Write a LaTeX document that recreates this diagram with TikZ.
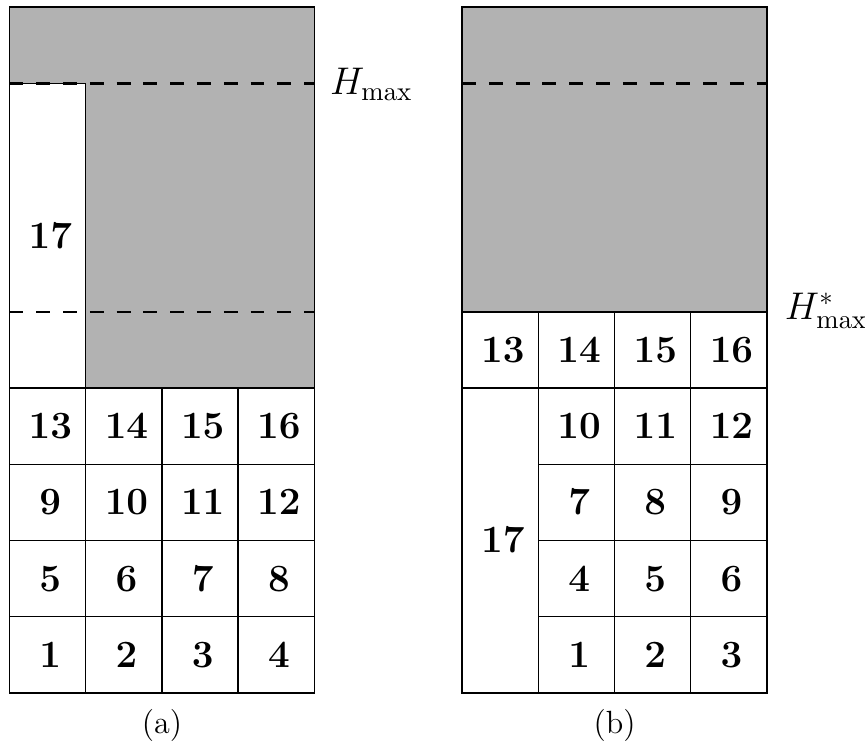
\documentclass[tikz,border=0pt]{standalone}
\begin{document}
\begin{tikzpicture}[x=1cm,y=1cm,
  grayfill/.style={fill=black!30},
  cellline/.style={draw=black,line width=0.5pt},
  hline/.style={draw=black,line width=0.9pt,dash pattern=on 5.2pt off 4.8pt},
  num/.style={font=\Large, xshift=1pt},
  captext/.style={font=\large, anchor=base},
  hlab/.style={font=\Large, anchor=base west, inner sep=0pt}]
\useasboundingbox (-0.125,-0.682) rectangle (11.227,9.094);

% ---------- (a) ----------
\begin{scope}
  \fill[grayfill] (0,8) rectangle (4,9);
  \fill[grayfill] (1,4) rectangle (4,8);
  \draw[cellline] (0,0) grid (4,4);
  \draw[cellline] (0,4) rectangle (1,8);
  \draw[cellline] (0,0) rectangle (4,9);
  \draw[hline] (0,8) -- (4,8);
  \draw[hline] (0,5) -- (4,5);
  \node[num] (a1) at (0.5,0.5) {$\mathbf{1}$};
  \node[num] (a2) at (1.5,0.5) {$\mathbf{2}$};
  \node[num] (a3) at (2.5,0.5) {$\mathbf{3}$};
  \node[num] (a4) at (3.5,0.5) {$\mathbf{4}$};
  \node[num] (a5) at (0.5,1.5) {$\mathbf{5}$};
  \node[num] (a6) at (1.5,1.5) {$\mathbf{6}$};
  \node[num] (a7) at (2.5,1.5) {$\mathbf{7}$};
  \node[num] (a8) at (3.5,1.5) {$\mathbf{8}$};
  \node[num] (a9) at (0.5,2.5) {$\mathbf{9}$};
  \node[num] (a10) at (1.5,2.5) {$\mathbf{10}$};
  \node[num] (a11) at (2.5,2.5) {$\mathbf{11}$};
  \node[num] (a12) at (3.5,2.5) {$\mathbf{12}$};
  \node[num] (a13) at (0.5,3.5) {$\mathbf{13}$};
  \node[num] (a14) at (1.5,3.5) {$\mathbf{14}$};
  \node[num] (a15) at (2.5,3.5) {$\mathbf{15}$};
  \node[num] (a16) at (3.5,3.5) {$\mathbf{16}$};
  \node[num] (a17) at (0.5,6) {$\mathbf{17}$};
  \node[hlab] (hmax) at (4.2,7.85) {$H_{\max}$};
  \node[captext] (capa) at (2,-0.534) {(a)};
\end{scope}

% ---------- (b) ----------
\begin{scope}[xshift=5.94cm]
  \fill[grayfill] (0,5) rectangle (4,9);
  \draw[cellline] (1,0) grid (4,4);
  \draw[cellline] (0,4) grid (4,5);
  \draw[cellline] (0,0) rectangle (1,4);
  \draw[cellline] (0,0) rectangle (4,9);
  \draw[hline] (0,8) -- (4,8);
  \draw[hline] (0,5) -- (4,5);
  \node[num] (b1) at (1.5,0.5) {$\mathbf{1}$};
  \node[num] (b2) at (2.5,0.5) {$\mathbf{2}$};
  \node[num] (b3) at (3.5,0.5) {$\mathbf{3}$};
  \node[num] (b4) at (1.5,1.5) {$\mathbf{4}$};
  \node[num] (b5) at (2.5,1.5) {$\mathbf{5}$};
  \node[num] (b6) at (3.5,1.5) {$\mathbf{6}$};
  \node[num] (b7) at (1.5,2.5) {$\mathbf{7}$};
  \node[num] (b8) at (2.5,2.5) {$\mathbf{8}$};
  \node[num] (b9) at (3.5,2.5) {$\mathbf{9}$};
  \node[num] (b10) at (1.5,3.5) {$\mathbf{10}$};
  \node[num] (b11) at (2.5,3.5) {$\mathbf{11}$};
  \node[num] (b12) at (3.5,3.5) {$\mathbf{12}$};
  \node[num] (b13) at (0.5,4.5) {$\mathbf{13}$};
  \node[num] (b14) at (1.5,4.5) {$\mathbf{14}$};
  \node[num] (b15) at (2.5,4.5) {$\mathbf{15}$};
  \node[num] (b16) at (3.5,4.5) {$\mathbf{16}$};
  \node[num] (b17) at (0.5,2) {$\mathbf{17}$};
  \node[hlab] (hmaxs) at (4.23,4.905) {$H^*_{\max}$};
  \node[captext] (capb) at (2,-0.534) {(b)};
\end{scope}
\end{tikzpicture}
\end{document}
